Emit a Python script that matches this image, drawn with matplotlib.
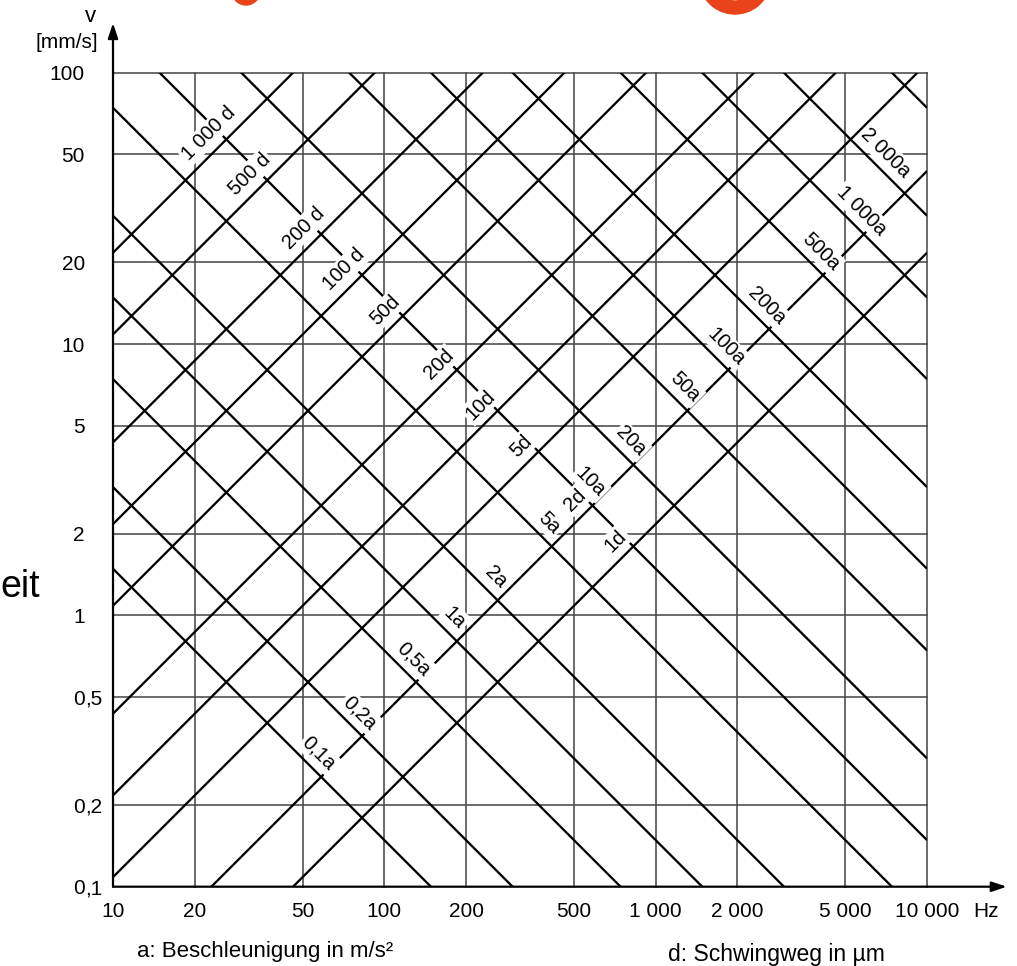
import matplotlib
matplotlib.use('Agg')
import matplotlib.pyplot as plt
from matplotlib.patches import Wedge
from matplotlib.transforms import IdentityTransform
import numpy as np

plt.rcParams['font.family'] = ['Liberation Sans', 'DejaVu Sans']

# axes: frequency in Hz, velocity in mm/s
freq_ticks = [10, 20, 50, 100, 200, 500, 1000, 2000, 5000, 10000]
freq_labels = ['10', '20', '50', '100', '200', '500', '1 000', '2 000', '5 000', '10 000']
velo_ticks = [0.1, 0.2, 0.5, 1, 2, 5, 10, 20, 50, 100]
velo_labels = ['0,1', '0,2', '0,5', '1', '2', '5', '10', '20', '50', '100']

# lines of constant acceleration a (m/s²) and displacement d (µm)
accel = [0.1, 0.2, 0.5, 1, 2, 5, 10, 20, 50, 100, 200, 500, 1000, 2000, 5000]
accel_labels = ['0,1a', '0,2a', '0,5a', '1a', '2a', '5a', '10a', '20a', '50a',
                '100a', '200a', '500a', '1 000a', '2 000a', None]
displ = [1, 2, 5, 10, 20, 50, 100, 200, 500, 1000]
displ_labels = ['1d', '2d', '5d', '10d', '20d', '50d', '100 d', '200 d', '500 d', '1 000 d']

# slopes:  v = K_A * a / f   and   v = K_D * d * f
K_A = 148.5
K_D = 2.17e-3
A_LABEL_D = 2    # a labels sit where the a line meets d = 2
D_LABEL_A = 10   # d labels sit where the d line meets a = 10

W, H = 1017, 966
fig = plt.figure(figsize=(W / 100, H / 100), dpi=100)
ax = fig.add_axes([113 / W, 1 - 886.7 / H, 814 / W, 814 / H])
ax.set_xscale('log')
ax.set_yscale('log')
ax.set_xlim(10, 10000)
ax.set_ylim(0.1, 100)
for s in ax.spines.values():
    s.set_visible(False)

# grid
for f in freq_ticks[1:]:
    ax.axvline(f, color='#4a4a4a', lw=1.15, zorder=1, clip_on=False)
for v in velo_ticks[1:]:
    ax.axhline(v, color='#4a4a4a', lw=1.15, zorder=1, clip_on=False)

fr = np.array([10.0, 10000.0])
for a in accel:
    z = 2 if a == D_LABEL_A else 4
    ax.plot(fr, K_A * a / fr, color='black', lw=1.65, zorder=z, solid_capstyle='butt')
for d in displ:
    z = 2 if d == A_LABEL_D else 4
    ax.plot(fr, K_D * d * fr, color='black', lw=1.65, zorder=z, solid_capstyle='butt')


def cross(a, d):
    f = np.sqrt(K_A * a / (K_D * d))
    return f, K_D * d * f


def offset(ux, uy, perp, along):
    # ux, uy: text direction; perp: px to the text's "up" side, along: px along text
    px, py = -uy, ux
    s = 0.72  # px -> points
    return ((perp * px + along * ux) * s, (perp * py + along * uy) * s)


r = np.sqrt(0.5)
box = dict(fc='white', ec='none', pad=1.5)
extra = {'2 000a': 24}
for a, lab in zip(accel, accel_labels):
    if lab is None:
        continue
    f, v = cross(a, A_LABEL_D)
    ax.annotate(lab, (f, v), xytext=offset(r, -r, 15, -18 - extra.get(lab, 0)),
                textcoords='offset points', rotation=-45, rotation_mode='anchor',
                ha='center', va='center', fontsize=14.5, bbox=box, zorder=3)
for d, lab in zip(displ, displ_labels):
    f, v = cross(D_LABEL_A, d)
    ax.annotate(lab, (f, v), xytext=offset(r, r, 16.5, -8.5),
                textcoords='offset points', rotation=45, rotation_mode='anchor',
                ha='center', va='center', fontsize=14.5, bbox=box, zorder=3)

# axis arrows
arr = dict(arrowstyle='-|>,head_length=0.9,head_width=0.3', color='black', lw=1.6,
           shrinkA=0, shrinkB=0)
ax.annotate('', xy=(1.098, 0), xytext=(0, 0), xycoords='axes fraction', arrowprops=arr)
ax.annotate('', xy=(0, 1.061), xytext=(0, 0), xycoords='axes fraction', arrowprops=arr)

# tick labels
ax.set_xticks(freq_ticks)
ax.set_xticklabels(freq_labels)
ax.set_yticks([])
ax.minorticks_off()
ax.tick_params(axis='x', length=0, pad=11, labelsize=15)
ax.text(1.0565, -0.0188, 'Hz', transform=ax.transAxes, ha='left', va='top', fontsize=15)

ytr = ax.get_yaxis_transform()
for v, lab in zip(velo_ticks, velo_labels):
    if ',' in lab:
        whole, frac = lab.split(',')
        ax.text(-0.0344, v, whole, transform=ytr, ha='right', va='center_baseline', fontsize=15)
        ax.text(-0.0344, v, ',' + frac, transform=ytr, ha='left', va='center_baseline', fontsize=15)
    else:
        ax.text(-0.0344, v, lab, transform=ytr, ha='right', va='center_baseline', fontsize=15)

fig.text(90 / W, 1 - 16 / H, 'v', ha='center', va='center', fontsize=16)
fig.text(98 / W, 1 - 43 / H, '[mm/s]', ha='right', va='center', fontsize=15)
fig.text(137 / W, 1 - 952 / H, 'a: Beschleunigung in m/s²', ha='left', va='center', fontsize=16)
fig.text(668 / W, 1 - 955 / H, 'd: Schwingweg in µm', ha='left', va='center', fontsize=16.5)

# bits of the slide around the chart
fig.text(0, 1 - 597 / H, 'eit', ha='left', va='baseline', fontsize=27)
red = '#e8431b'
fig.patches.append(Wedge((735, H + 22), 36, 195, 345, width=13, color=red,
                         transform=IdentityTransform()))
fig.patches.append(Wedge((246, H + 9), 14, 180, 360, color=red,
                         transform=IdentityTransform()))

fig.savefig('out.png', dpi=100)
